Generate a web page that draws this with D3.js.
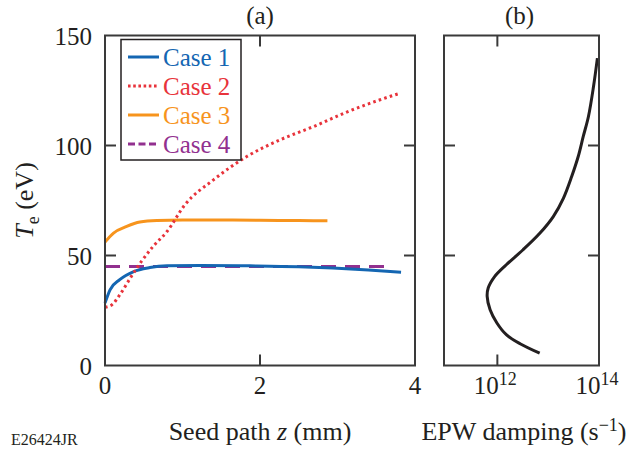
<html>
<head>
<style>
body { margin: 0; padding: 0; background: #fff; }
svg { display: block; }
.frame { fill: none; stroke: #3a3a3a; stroke-width: 2; }
.tick { stroke: #3a3a3a; stroke-width: 2; }
</style>
<script src="https://cdnjs.cloudflare.com/ajax/libs/d3/7.8.5/d3.min.js"></script>
</head>
<body>
<svg width="626" height="450"></svg>
<script>
// panel (a): Te along the seed path
var case1Z = [0, 0.065, 0.19, 0.37, 0.58, 0.8, 1.23, 1.87, 2.5, 2.94, 3.4, 3.82]
var case1T = [28.4, 34.4, 39, 42.7, 44.5, 45.3, 45.5, 45.3, 44.9, 44.3, 43.4, 42.4]
var case2Z = [0, 0.09, 0.19, 0.34, 0.47, 0.62, 0.8, 1.03, 1.4, 1.83, 2.26, 2.69, 3.12, 3.55, 3.81]
var case2T = [26.5, 27.6, 32.1, 40.5, 47.3, 54.1, 60.9, 73, 84.4, 95, 102.6, 108.6, 115.2, 120.8, 123.8]
var case3Z = [0, 0.11, 0.28, 0.45, 0.67, 1.0, 1.5, 2.0, 2.5, 2.87]
var case3T = [56.1, 60.2, 63.2, 65.2, 65.9, 66.1, 66.1, 66.0, 65.9, 65.8]
var case4Z = [0, 3.68]
var case4T = [45, 45]

// panel (b): EPW damping vs Te
var epwTe = [139.7, 126.8, 113.2, 104.1, 95, 85.9, 76.1, 67.7, 60.2, 52.6, 45.8, 40.5, 35.2, 31.4, 25.3, 19.3, 14, 9.9, 5.6]
var epwDamp = [9.3e13, 7.8e13, 6.2e13, 4.9e13, 3.9e13, 2.9e13, 2.0e13, 1.26e13, 6.9e12, 3.2e12, 1.5e12, 8.9e11, 6.6e11, 6.3e11, 7.2e11, 9.8e11, 1.5e12, 2.8e12, 6.8e12]

var caseNames = ['Case 1', 'Case 2', 'Case 3', 'Case 4']
var caseColors = ['#1466b2', '#e8333b', '#f7941d', '#92308f']
var yTicks = [0, 50, 100, 150]
var xTicksA = [0, 2, 4]
var xTicksB = [1e12, 1e14]

var ink = '#231f20'

var svg = d3.select('svg')

var yTop = 35.5, yBot = 365.5
var ax0 = 105, ax1 = 415
var bx0 = 444, bx1 = 599

var y = d3.scaleLinear().domain([0, 150]).range([yBot, yTop])
var xa = d3.scaleLinear().domain([0, 4]).range([ax0, ax1])
var xb = d3.scaleLog().domain([Math.pow(10, 10.95), 1e14]).range([bx0, bx1])

function label(x, yy, size) {
  return svg.append('text').attr('x', x).attr('y', yy)
    .attr('font-size', size).attr('fill', ink)
    .style('font-family', '"Liberation Serif"')
}

var series = [
  {z: case1Z, t: case1T},
  {z: case2Z, t: case2T},
  {z: case3Z, t: case3T},
  {z: case4Z, t: case4T}
]
var dashes = [null, '2.6,3.2', null, '15,9']
var legendDashes = [null, '2.6,2.6', null, '7,3.5']

var lineA = d3.line()
  .x(function(d) { return xa(d[0]) })
  .y(function(d) { return y(d[1]) })
  .curve(d3.curveMonotoneX)

// curves of panel (a); case 4 first so case 1 sits on top of it
var order = [3, 2, 0, 1]
order.forEach(function(i) {
  var pts = series[i].z.map(function(z, k) { return [z, series[i].t[k]] })
  svg.append('path')
    .attr('d', lineA(pts))
    .attr('fill', 'none')
    .attr('stroke', caseColors[i])
    .attr('stroke-width', 3)
    .attr('stroke-dasharray', dashes[i])
})

// curve of panel (b)
var lineB = d3.line()
  .x(function(d) { return xb(d[1]) })
  .y(function(d) { return y(d[0]) })
  .curve(d3.curveCatmullRom)
svg.append('path')
  .attr('d', lineB(epwTe.map(function(t, k) { return [t, epwDamp[k]] })))
  .attr('fill', 'none')
  .attr('stroke', ink)
  .attr('stroke-width', 3)

// frames and inside ticks
function panel(x0, x1, xs, xt) {
  svg.append('rect').attr('class', 'frame')
    .attr('x', x0).attr('y', yTop).attr('width', x1 - x0).attr('height', yBot - yTop)
  yTicks.filter(function(v) { return v > 0 && v < 150 }).forEach(function(v) {
    svg.append('line').attr('class', 'tick').attr('x1', x0).attr('x2', x0 + 11).attr('y1', y(v)).attr('y2', y(v))
    svg.append('line').attr('class', 'tick').attr('x1', x1 - 11).attr('x2', x1).attr('y1', y(v)).attr('y2', y(v))
  })
  xt.forEach(function(v) {
    var px = xs(v)
    if (px <= x0 + 1 || px >= x1 - 1) return
    svg.append('line').attr('class', 'tick').attr('x1', px).attr('x2', px).attr('y1', yTop).attr('y2', yTop + 11)
    svg.append('line').attr('class', 'tick').attr('x1', px).attr('x2', px).attr('y1', yBot - 11).attr('y2', yBot)
  })
}
panel(ax0, ax1, xa, xTicksA)
panel(bx0, bx1, xb, xTicksB)

// tick labels
yTicks.forEach(function(v) {
  label(92, y(v) + 9, 25).attr('text-anchor', 'end').text(v)
})
xTicksA.forEach(function(v) {
  label(xa(v), 394, 25).attr('text-anchor', 'middle').text(v)
})
xTicksB.forEach(function(v) {
  var t = label(xb(v) - 2, 394, 25).attr('text-anchor', 'middle')
  t.append('tspan').text('10')
  t.append('tspan').attr('dy', -9).attr('font-size', 18).text(Math.round(Math.log10(v)))
})

// panel titles
label((ax0 + ax1) / 2, 24, 25).attr('text-anchor', 'middle').text('(a)')
label((bx0 + bx1) / 2 - 2, 24, 25).attr('text-anchor', 'middle').text('(b)')

// axis titles
var xl = label(260, 440, 26).attr('text-anchor', 'middle')
xl.append('tspan').text('Seed path ')
xl.append('tspan').attr('font-style', 'italic').text('z')
xl.append('tspan').text(' (mm)')

var xl2 = label(524, 440, 26).attr('text-anchor', 'middle')
xl2.append('tspan').text('EPW damping (s')
xl2.append('tspan').attr('dy', -9).attr('font-size', 18).text('\u22121')
xl2.append('tspan').attr('dy', 9).text(')')

var yl = label(0, 0, 26)
  .attr('transform', 'translate(33,' + ((yTop + yBot) / 2) + ') rotate(-90)')
  .attr('text-anchor', 'middle')
yl.append('tspan').attr('font-style', 'italic').text('T')
yl.append('tspan').attr('dy', 6).attr('font-size', 18).text('e')
yl.append('tspan').attr('dy', -6).text(' (eV)')

label(11, 445, 16).text('E26424JR')

// legend
svg.append('rect').attr('x', 121).attr('y', 39.5).attr('width', 120).attr('height', 120.5)
  .attr('fill', '#fff').attr('stroke', ink).attr('stroke-width', 1.5)
caseNames.forEach(function(name, i) {
  var ly = 57 + i * 29
  svg.append('line')
    .attr('x1', 128).attr('x2', 159).attr('y1', ly).attr('y2', ly)
    .attr('stroke', caseColors[i]).attr('stroke-width', 3)
    .attr('stroke-dasharray', legendDashes[i])
  label(163, ly + 8.5, 25).attr('fill', caseColors[i]).text(name)
})
</script>
</body>
</html>
